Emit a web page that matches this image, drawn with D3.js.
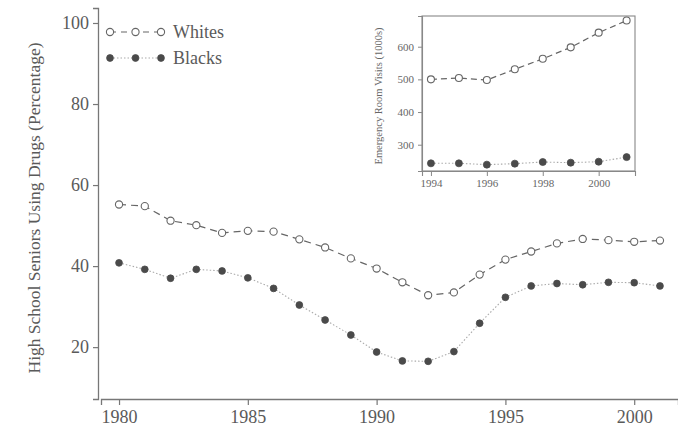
<!DOCTYPE html>
<html><head><meta charset="utf-8">
<script src="https://cdn.jsdelivr.net/npm/d3@7"></script>
<style>
html,body{margin:0;padding:0;background:#fff;}
text{font-family:"Liberation Serif","Times New Roman",serif;}
</style></head>
<body>
<svg id="chart" width="678" height="430"></svg>
<script>
const years = d3.range(1980, 2002);
const whites = [55.2,54.8,51.2,50.1,48.2,48.7,48.5,46.6,44.6,41.9,39.4,36.0,32.8,33.5,37.9,41.6,43.6,45.6,46.7,46.4,46.0,46.3];
const blacks = [40.8,39.2,37.0,39.2,38.8,37.1,34.5,30.4,26.7,23.0,18.8,16.6,16.5,18.9,25.9,32.3,35.1,35.7,35.4,36.0,35.9,35.1];
const yTicks = [20,40,60,80,100];
const xTicks = [1980,1985,1990,1995,2000];

const insetYears = d3.range(1994, 2002);
const insetWhites = [500,504,498,531,563,598,643,680];
const insetBlacks = [243,243,239,242,247,245,248,262];
const insetYTicks = [300,400,500,600];
const insetXTicks = [1994,1996,1998,2000];

const seriesNames = ["Whites","Blacks"];

const svg = d3.select("#chart");
const ink = "#5a5a5a";

// main scales
const x = d3.scaleLinear().domain([1979.3, 2001.7]).range([101, 678]);
const y = d3.scaleLinear().domain([7.2, 103.7]).range([399, 8]);

const yAxis = svg.append("g").attr("transform","translate(98,0)")
  .call(d3.axisLeft(y).tickValues(yTicks).tickSize(5).tickPadding(4));
const xAxis = svg.append("g").attr("transform","translate(0,399)")
  .call(d3.axisBottom(x).tickValues(xTicks).tickFormat(d3.format("d")).tickSize(6).tickPadding(5));
[yAxis,xAxis].forEach(a=>{
  a.select(".domain").attr("stroke","#777").attr("stroke-width",1.3);
  a.selectAll(".tick line").attr("stroke","#777").attr("stroke-width",1.2);
  a.selectAll(".tick text").attr("fill",ink).attr("font-size",18)
   .attr("font-family","Liberation Serif, serif");
});

svg.append("text")
  .attr("transform","translate(40,208) rotate(-90)")
  .attr("text-anchor","middle").attr("fill",ink).attr("font-size",17.5)
  .text("High School Seniors Using Drugs (Percentage)");

function drawSeries(g, xs, ys, vals, open, r, dash, sw){
  const line = d3.line().x((d,i)=>xs(g.yearsArr[i])).y(d=>ys(d));
  g.sel.append("path").datum(vals).attr("d",line).attr("fill","none")
    .attr("stroke", open ? "#666" : "#aaa").attr("stroke-width", sw)
    .attr("stroke-dasharray", dash);
  g.sel.selectAll(null).data(vals).enter().append("circle")
    .attr("cx",(d,i)=>xs(g.yearsArr[i])).attr("cy",d=>ys(d)).attr("r",r)
    .attr("fill", open ? "#fff" : "#4a4a4a")
    .attr("stroke", open ? "#666" : "#4a4a4a").attr("stroke-width", open?1.1:0.8);
}

const mainG = svg.append("g");
drawSeries({sel:mainG, yearsArr:years}, x, y, whites, true, 3.6, "7,5", 1.2);
drawSeries({sel:mainG, yearsArr:years}, x, y, blacks, false, 3.4, "1.5,2", 1.1);

// legend
const legend = svg.append("g");
const legX = d3.scaleLinear().domain([0,2]).range([110,161]);
[0,1].forEach(k=>{
  const ly = k===0 ? 32 : 58;
  legend.append("line").attr("x1",legX(0)).attr("x2",legX(2)).attr("y1",ly).attr("y2",ly)
    .attr("stroke", k===0?"#666":"#aaa").attr("stroke-width",k===0?1.2:1.1)
    .attr("stroke-dasharray", k===0?"6,5":"1.5,2");
  legend.selectAll(null).data([0,1,2]).enter().append("circle")
    .attr("cx",d=>legX(d)).attr("cy",ly).attr("r",k===0?3.6:3.4)
    .attr("fill",k===0?"#fff":"#4a4a4a").attr("stroke",k===0?"#666":"#4a4a4a").attr("stroke-width",k===0?1.1:0.8);
  legend.append("text").attr("x",173).attr("y",ly+6).attr("fill",ink).attr("font-size",18)
    .text(seriesNames[k]);
});

// inset
const ix = d3.scaleLinear().domain([1993.68, 2001.3]).range([422, 635]);
const iy = d3.scaleLinear().domain([219.5, 694]).range([171, 16]);
svg.append("rect").attr("x",422).attr("y",16).attr("width",213).attr("height",155)
  .attr("fill","#fff").attr("stroke","#888").attr("stroke-width",1.1);
const iyA = svg.append("g").attr("transform","translate(422,0)")
  .call(d3.axisLeft(iy).tickValues(insetYTicks).tickSize(4).tickPadding(4));
const ixA = svg.append("g").attr("transform","translate(0,171)")
  .call(d3.axisBottom(ix).tickValues(insetXTicks).tickFormat(d3.format("d")).tickSize(5).tickPadding(3));
[iyA,ixA].forEach(a=>{
  a.select(".domain").attr("stroke","#888").attr("stroke-width",1.1);
  a.selectAll(".tick line").attr("stroke","#888");
  a.selectAll(".tick text").attr("fill","#666").attr("font-size",11)
   .attr("font-family","Liberation Serif, serif");
});
svg.append("text")
  .attr("transform","translate(382,96) rotate(-90)")
  .attr("text-anchor","middle").attr("fill","#666").attr("font-size",10.5)
  .text("Emergency Room Visits (1000s)");
const insG = svg.append("g");
drawSeries({sel:insG, yearsArr:insetYears}, ix, iy, insetWhites, true, 3.5, "6,4", 1.2);
drawSeries({sel:insG, yearsArr:insetYears}, ix, iy, insetBlacks, false, 3.5, "1.5,2", 1.1);
</script>
</body></html>
